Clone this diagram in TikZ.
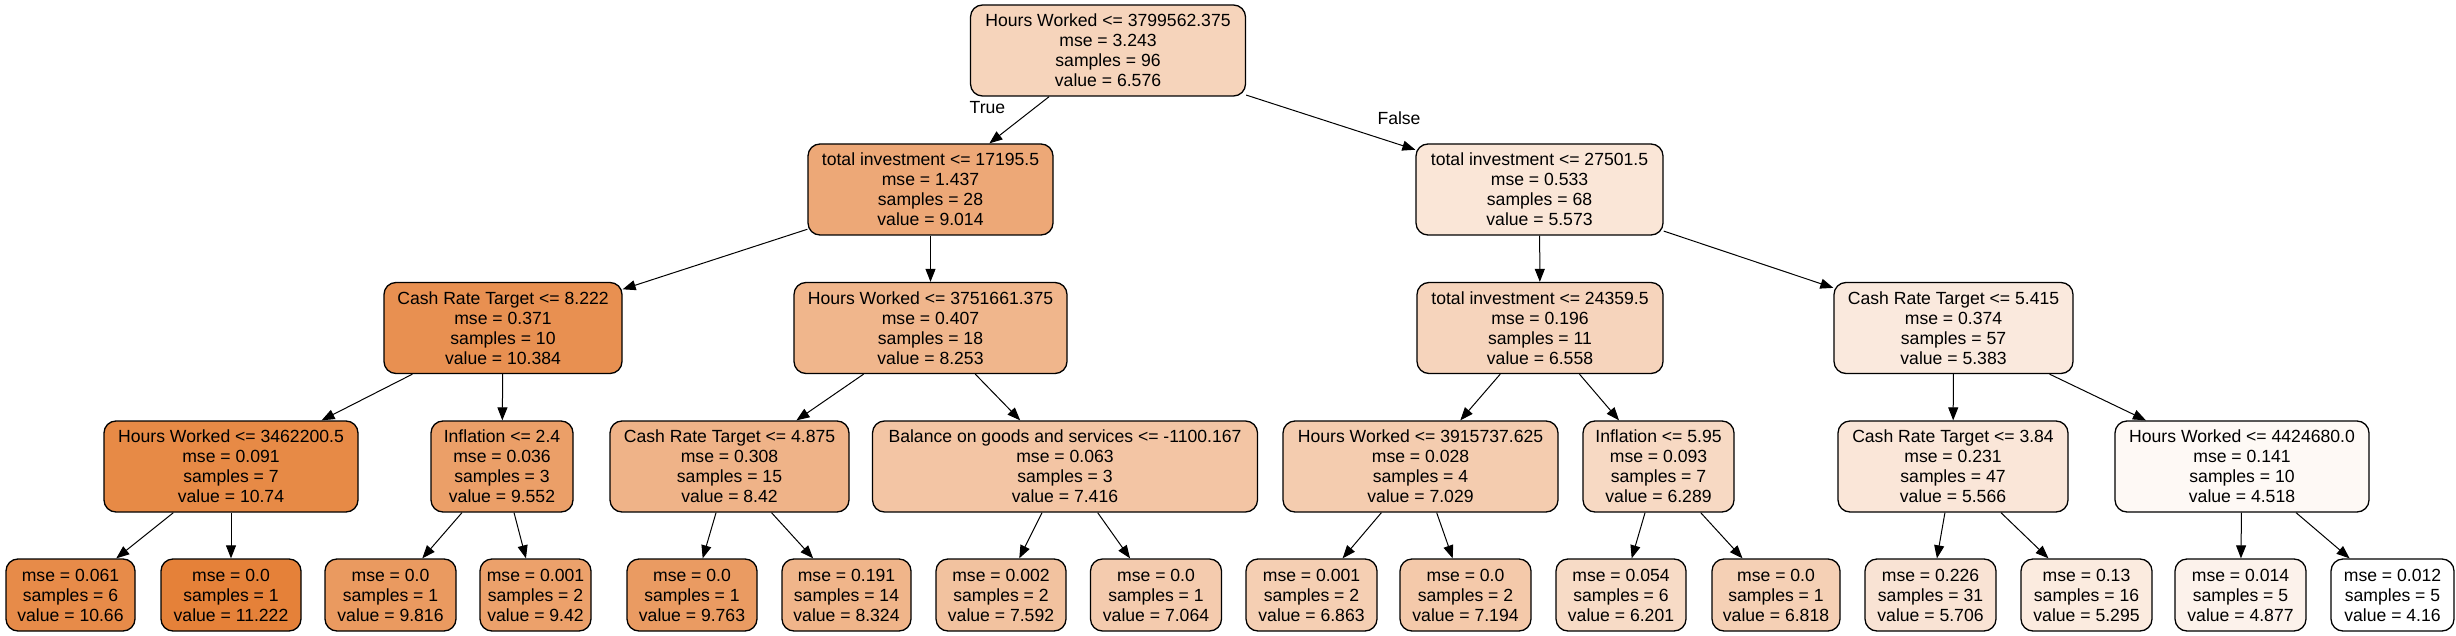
\documentclass[tikz,border=0pt]{standalone}
\usepackage{fontspec}
\setmainfont{Liberation Sans}
\usetikzlibrary{arrows.meta}
\definecolor{orng}{RGB}{229,129,57}
\newcommand{\nodefont}{\fontsize{17.6}{20}\selectfont}
\begin{document}
\begin{tikzpicture}[x=1pt,y=-1pt,
  box/.style={draw=black, rounded corners=12pt, line width=1.3pt, inner sep=0pt, align=center, font=\nodefont},
  inner/.style={box, minimum height=91pt},
  leaf/.style={box, minimum height=72pt},
  edge/.style={line width=1pt, -{Triangle[length=13pt,width=10pt]}},
  elab/.style={font=\nodefont, inner sep=0pt}]
\useasboundingbox[fill=white] (0,0) rectangle (2456,636);
% level 0
\node[inner, minimum width=275pt, fill=orng!34.2] (r) at (1108,50.5) {Hours Worked <= 3799562.375\\mse = 3.243\\samples = 96\\value = 6.576};
% level 1
\node[inner, minimum width=245pt, fill=orng!68.7] (a) at (930.5,189.5) {total investment <= 17195.5\\mse = 1.437\\samples = 28\\value = 9.014};
\node[inner, minimum width=247pt, fill=orng!20.0] (b) at (1539.5,189.5) {total investment <= 27501.5\\mse = 0.533\\samples = 68\\value = 5.573};
% level 2
\node[inner, minimum width=238pt, fill=orng!88.1] (aa) at (503,328) {Cash Rate Target <= 8.222\\mse = 0.371\\samples = 10\\value = 10.384};
\node[inner, minimum width=273pt, fill=orng!58.0] (ab) at (930.5,328) {Hours Worked <= 3751661.375\\mse = 0.407\\samples = 18\\value = 8.253};
\node[inner, minimum width=246pt, fill=orng!33.9] (ba) at (1540,328) {total investment <= 24359.5\\mse = 0.196\\samples = 11\\value = 6.558};
\node[inner, minimum width=239pt, fill=orng!17.3] (bb) at (1953.5,328) {Cash Rate Target <= 5.415\\mse = 0.374\\samples = 57\\value = 5.383};
% level 3
\node[inner, minimum width=254pt, fill=orng!93.2] (aaa) at (231,466.5) {Hours Worked <= 3462200.5\\mse = 0.091\\samples = 7\\value = 10.74};
\node[inner, minimum width=142pt, fill=orng!76.4] (aab) at (502,466.5) {Inflation <= 2.4\\mse = 0.036\\samples = 3\\value = 9.552};
\node[inner, minimum width=239pt, fill=orng!60.3] (aba) at (729.5,466.5) {Cash Rate Target <= 4.875\\mse = 0.308\\samples = 15\\value = 8.42};
\node[inner, minimum width=385pt, fill=orng!46.1] (abb) at (1065,466.5) {Balance on goods and services <= -1100.167\\mse = 0.063\\samples = 3\\value = 7.416};
\node[inner, minimum width=275pt, fill=orng!40.6] (baa) at (1420.5,466.5) {Hours Worked <= 3915737.625\\mse = 0.028\\samples = 4\\value = 7.029};
\node[inner, minimum width=151pt, fill=orng!30.1] (bab) at (1658.5,466.5) {Inflation <= 5.95\\mse = 0.093\\samples = 7\\value = 6.289};
\node[inner, minimum width=230pt, fill=orng!19.9] (bba) at (1953,466.5) {Cash Rate Target <= 3.84\\mse = 0.231\\samples = 47\\value = 5.566};
\node[inner, minimum width=254pt, fill=orng!5.1] (bbb) at (2242,466.5) {Hours Worked <= 4424680.0\\mse = 0.141\\samples = 10\\value = 4.518};
% leaves
\node[leaf, minimum width=129pt, fill=orng!92.0] (l1) at (70.5,595) {mse = 0.061\\samples = 6\\value = 10.66};
\node[leaf, minimum width=140pt, fill=orng!100] (l2) at (231,595) {mse = 0.0\\samples = 1\\value = 11.222};
\node[leaf, minimum width=131pt, fill=orng!80.1] (l3) at (390.5,595) {mse = 0.0\\samples = 1\\value = 9.816};
\node[leaf, minimum width=111pt, fill=orng!74.5] (l4) at (535.5,595) {mse = 0.001\\samples = 2\\value = 9.42};
\node[leaf, minimum width=130pt, fill=orng!79.3] (l5) at (692,595) {mse = 0.0\\samples = 1\\value = 9.763};
\node[leaf, minimum width=129pt, fill=orng!59.0] (l6) at (846.5,595) {mse = 0.191\\samples = 14\\value = 8.324};
\node[leaf, minimum width=130pt, fill=orng!48.6] (l7) at (1001,595) {mse = 0.002\\samples = 2\\value = 7.592};
\node[leaf, minimum width=131pt, fill=orng!41.1] (l8) at (1156,595) {mse = 0.0\\samples = 1\\value = 7.064};
\node[leaf, minimum width=131pt, fill=orng!38.3] (l9) at (1311.5,595) {mse = 0.001\\samples = 2\\value = 6.863};
\node[leaf, minimum width=131pt, fill=orng!43.0] (l10) at (1465.5,595) {mse = 0.0\\samples = 2\\value = 7.194};
\node[leaf, minimum width=130pt, fill=orng!28.9] (l11) at (1621,595) {mse = 0.054\\samples = 6\\value = 6.201};
\node[leaf, minimum width=128pt, fill=orng!37.6] (l12) at (1776,595) {mse = 0.0\\samples = 1\\value = 6.818};
\node[leaf, minimum width=131pt, fill=orng!21.9] (l13) at (1930.5,595) {mse = 0.226\\samples = 31\\value = 5.706};
\node[leaf, minimum width=131pt, fill=orng!16.1] (l14) at (2086.5,595) {mse = 0.13\\samples = 16\\value = 5.295};
\node[leaf, minimum width=131pt, fill=orng!10.2] (l15) at (2240.5,595) {mse = 0.014\\samples = 5\\value = 4.877};
\node[leaf, minimum width=123pt, fill=white] (l16) at (2392.5,595) {mse = 0.012\\samples = 5\\value = 4.16};
% edges
\draw[edge] (r) -- (a);
\draw[edge] (r) -- (b);
\node[elab] (tl) at (987.5,108) {True};
\node[elab] (fl) at (1399,118) {False};
\draw[edge] (a) -- (aa);
\draw[edge] (a) -- (ab);
\draw[edge] (b) -- (ba);
\draw[edge] (b) -- (bb);
\draw[edge] (aa) -- (aaa);
\draw[edge] (aa) -- (aab);
\draw[edge] (ab) -- (aba);
\draw[edge] (ab) -- (abb);
\draw[edge] (ba) -- (baa);
\draw[edge] (ba) -- (bab);
\draw[edge] (bb) -- (bba);
\draw[edge] (bb) -- (bbb);
\draw[edge] (aaa) -- (l1);
\draw[edge] (aaa) -- (l2);
\draw[edge] (aab) -- (l3);
\draw[edge] (aab) -- (l4);
\draw[edge] (aba) -- (l5);
\draw[edge] (aba) -- (l6);
\draw[edge] (abb) -- (l7);
\draw[edge] (abb) -- (l8);
\draw[edge] (baa) -- (l9);
\draw[edge] (baa) -- (l10);
\draw[edge] (bab) -- (l11);
\draw[edge] (bab) -- (l12);
\draw[edge] (bba) -- (l13);
\draw[edge] (bba) -- (l14);
\draw[edge] (bbb) -- (l15);
\draw[edge] (bbb) -- (l16);
\end{tikzpicture}
\end{document}
